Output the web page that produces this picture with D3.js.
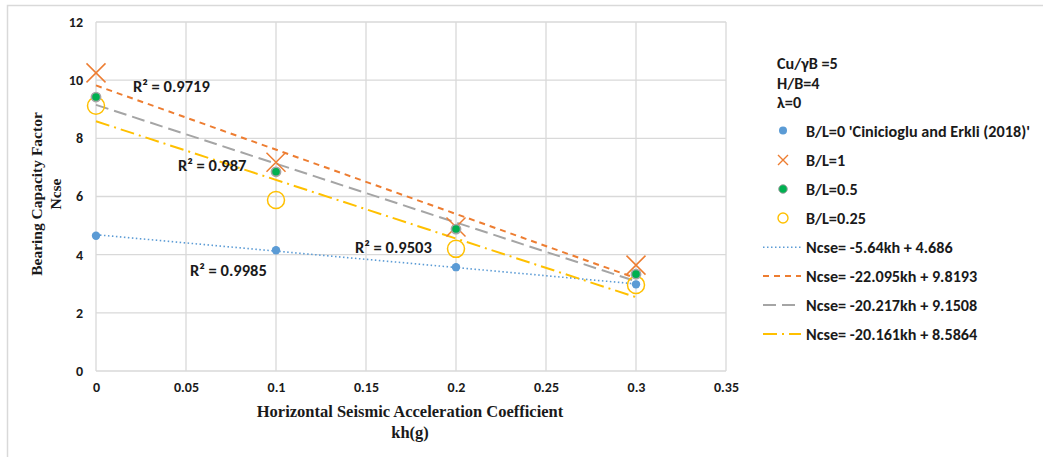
<!DOCTYPE html>
<html>
<head>
<meta charset="utf-8">
<script src="https://cdn.jsdelivr.net/npm/d3@7"></script>
<style>
  html, body { margin: 0; padding: 0; background: #fff; }
  svg { display: block; }
</style>
</head>
<body>
<svg id="chart" width="1043" height="457"></svg>
<script>
// Seismic bearing capacity factor Ncse vs. horizontal seismic coefficient kh
const kh = [0, 0.1, 0.2, 0.3];
const ncseBL0 = [4.65, 4.15, 3.57, 2.98];
const ncseBL1 = [10.25, 7.18, 4.95, 3.64];
const ncseBL05 = [9.42, 6.85, 4.88, 3.33];
const ncseBL025 = [9.12, 5.88, 4.20, 2.96];

// Linear trend lines: [slope, intercept]
const fitBL0 = [-5.64, 4.686];
const fitBL1 = [-22.095, 9.8193];
const fitBL05 = [-20.217, 9.1508];
const fitBL025 = [-20.161, 8.5864];

const r2Labels = ["R² = 0.9719", "R² = 0.987", "R² = 0.9503", "R² = 0.9985"];
const xTicks = [0, 0.05, 0.1, 0.15, 0.2, 0.25, 0.3, 0.35];
const yTicks = [0, 2, 4, 6, 8, 10, 12];
const infoLines = ["Cu/γB =5", "H/B=4", "λ=0"];
const seriesNames = ["B/L=0 'Cinicioglu and Erkli (2018)'", "B/L=1", "B/L=0.5", "B/L=0.25"];
const fitNames = ["Ncse= -5.64kh + 4.686", "Ncse= -22.095kh + 9.8193", "Ncse= -20.217kh + 9.1508", "Ncse= -20.161kh + 8.5864"];

const svg = d3.select("#chart");
const sans = "Carlito, Lato, 'Open Sans', sans-serif";
const serif = "'Liberation Serif', 'Times New Roman', serif";

// outer frame (top and left edges)
svg.append("path").attr("d", "M7.5,457 V5.5 H1043")
  .attr("fill", "none").attr("stroke", "#d9d9d9").attr("stroke-width", 1.5);

const plot = { left: 96, right: 726, top: 22, bottom: 371 };
const x = d3.scaleLinear().domain([0, 0.35]).range([plot.left, plot.right]);
const y = d3.scaleLinear().domain([0, 12]).range([plot.bottom, plot.top]);

// gridlines
const grid = svg.append("g");
grid.selectAll(".vx").data(xTicks).join("line")
  .attr("x1", d => x(d)).attr("x2", d => x(d))
  .attr("y1", plot.top).attr("y2", plot.bottom)
  .attr("stroke", "#d9d9d9").attr("stroke-width", 1.3);
grid.selectAll(".hy").data(yTicks).join("line")
  .attr("x1", plot.left).attr("x2", plot.right)
  .attr("y1", d => y(d)).attr("y2", d => y(d))
  .attr("stroke", "#d9d9d9").attr("stroke-width", 1.3);

// axes (labels only)
const xAxis = svg.append("g").attr("transform", `translate(0,${plot.bottom})`)
  .call(d3.axisBottom(x).tickValues(xTicks).tickSize(0).tickPadding(11).tickFormat(d => d3.format("~g")(d)));
xAxis.select(".domain").remove();
xAxis.selectAll("text").attr("font-family", sans).attr("font-weight", "bold")
  .attr("font-size", 14).attr("fill", "#1a1a1a");

const yAxis = svg.append("g").attr("transform", `translate(${plot.left},0)`)
  .call(d3.axisLeft(y).tickValues(yTicks).tickSize(0).tickPadding(13));
yAxis.select(".domain").remove();
yAxis.selectAll("text").attr("font-family", sans).attr("font-weight", "bold")
  .attr("font-size", 14).attr("fill", "#1a1a1a");

// axis titles
const yTitle = svg.append("text")
  .attr("transform", "translate(46,194) rotate(-90)")
  .attr("text-anchor", "middle").attr("font-family", serif).attr("font-weight", "bold")
  .attr("font-size", 15.5).attr("fill", "#1a1a1a");
yTitle.append("tspan").attr("x", 0).attr("dy", -4).text("Bearing Capacity Factor");
yTitle.append("tspan").attr("x", 0).attr("dy", 19).text("Ncse");

const xTitle = svg.append("text")
  .attr("text-anchor", "middle").attr("font-family", serif).attr("font-weight", "bold")
  .attr("font-size", 16.5).attr("fill", "#1a1a1a");
xTitle.append("tspan").attr("x", 410).attr("y", 417).text("Horizontal Seismic Acceleration Coefficient");
xTitle.append("tspan").attr("x", 410).attr("y", 438).text("kh(g)");

// trend lines
const fits = [
  { p: fitBL0, color: "#5b9bd5", dash: "1.5,2.5", width: 1.6 },
  { p: fitBL1, color: "#ed7d31", dash: "6,5", width: 2 },
  { p: fitBL05, color: "#a5a5a5", dash: "13,6", width: 2 },
  { p: fitBL025, color: "#ffc000", dash: "14,5,2,5", width: 2 }
];
const line = d3.line().x(d => x(d[0])).y(d => y(d[1]));
fits.forEach(f => {
  const pts = [kh[0], kh[kh.length - 1]].map(k => [k, f.p[0] * k + f.p[1]]);
  svg.append("path").attr("d", line(pts)).attr("fill", "none")
    .attr("stroke", f.color).attr("stroke-width", f.width).attr("stroke-dasharray", f.dash);
});

// markers
const g = svg.append("g");
function dots(vals, r, fill, stroke, sw) {
  g.selectAll(null).data(kh.map((k, i) => [k, vals[i]])).join("circle")
    .attr("cx", d => x(d[0])).attr("cy", d => y(d[1])).attr("r", r)
    .attr("fill", fill).attr("stroke", stroke).attr("stroke-width", sw);
}
function crosses(vals, s, color) {
  g.selectAll(null).data(kh.map((k, i) => [k, vals[i]])).join("path")
    .attr("d", d => { const cx = x(d[0]), cy = y(d[1]);
      return `M${cx - s},${cy - s}L${cx + s},${cy + s}M${cx - s},${cy + s}L${cx + s},${cy - s}`; })
    .attr("stroke", color).attr("stroke-width", 1.5).attr("fill", "none");
}
dots(ncseBL025, 8.5, "none", "#ffc000", 1.5);
crosses(ncseBL1, 9.5, "#ed7d31");
dots(ncseBL05, 4.6, "#00b050", "#a5a5a5", 1.6);
dots(ncseBL0, 4.2, "#5b9bd5", "none", 0);

// R² annotations
const r2Pos = [[133, 92], [178, 171], [355, 253], [190, 276]];
svg.selectAll(".r2").data(r2Labels).join("text")
  .attr("x", (d, i) => r2Pos[i][0]).attr("y", (d, i) => r2Pos[i][1])
  .attr("font-family", sans).attr("font-weight", "bold").attr("font-size", 16.5)
  .attr("fill", "#1a1a1a").text(d => d);

// legend
const leg = svg.append("g").attr("font-family", sans).attr("font-weight", "bold")
  .attr("font-size", 16.2).attr("fill", "#1a1a1a");
const infoY = [69, 88.5, 108];
infoLines.forEach((t, i) => leg.append("text").attr("x", 777).attr("y", infoY[i]).text(t));

const rowY = [130.5, 160, 189, 218, 247.3, 276, 305, 334];
const legText = seriesNames.concat(fitNames);
legText.forEach((t, i) => leg.append("text").attr("x", 806).attr("y", rowY[i] + 6).text(t));

const mx = 783;
leg.append("circle").attr("cx", mx).attr("cy", rowY[0]).attr("r", 4).attr("fill", "#5b9bd5");
leg.append("path").attr("d", `M${mx - 5},${rowY[1] - 5}L${mx + 5},${rowY[1] + 5}M${mx - 5},${rowY[1] + 5}L${mx + 5},${rowY[1] - 5}`)
  .attr("stroke", "#ed7d31").attr("stroke-width", 1.4);
leg.append("circle").attr("cx", mx).attr("cy", rowY[2]).attr("r", 4.3).attr("fill", "#00b050").attr("stroke", "#a5a5a5").attr("stroke-width", 1);
leg.append("circle").attr("cx", mx).attr("cy", rowY[3]).attr("r", 5).attr("fill", "none").attr("stroke", "#ffc000").attr("stroke-width", 1.4);
fits.forEach((f, i) => {
  leg.append("line").attr("x1", 763).attr("x2", 801).attr("y1", rowY[4 + i]).attr("y2", rowY[4 + i])
    .attr("stroke", f.color).attr("stroke-width", f.width).attr("stroke-dasharray", f.dash);
});
</script>
</body>
</html>
